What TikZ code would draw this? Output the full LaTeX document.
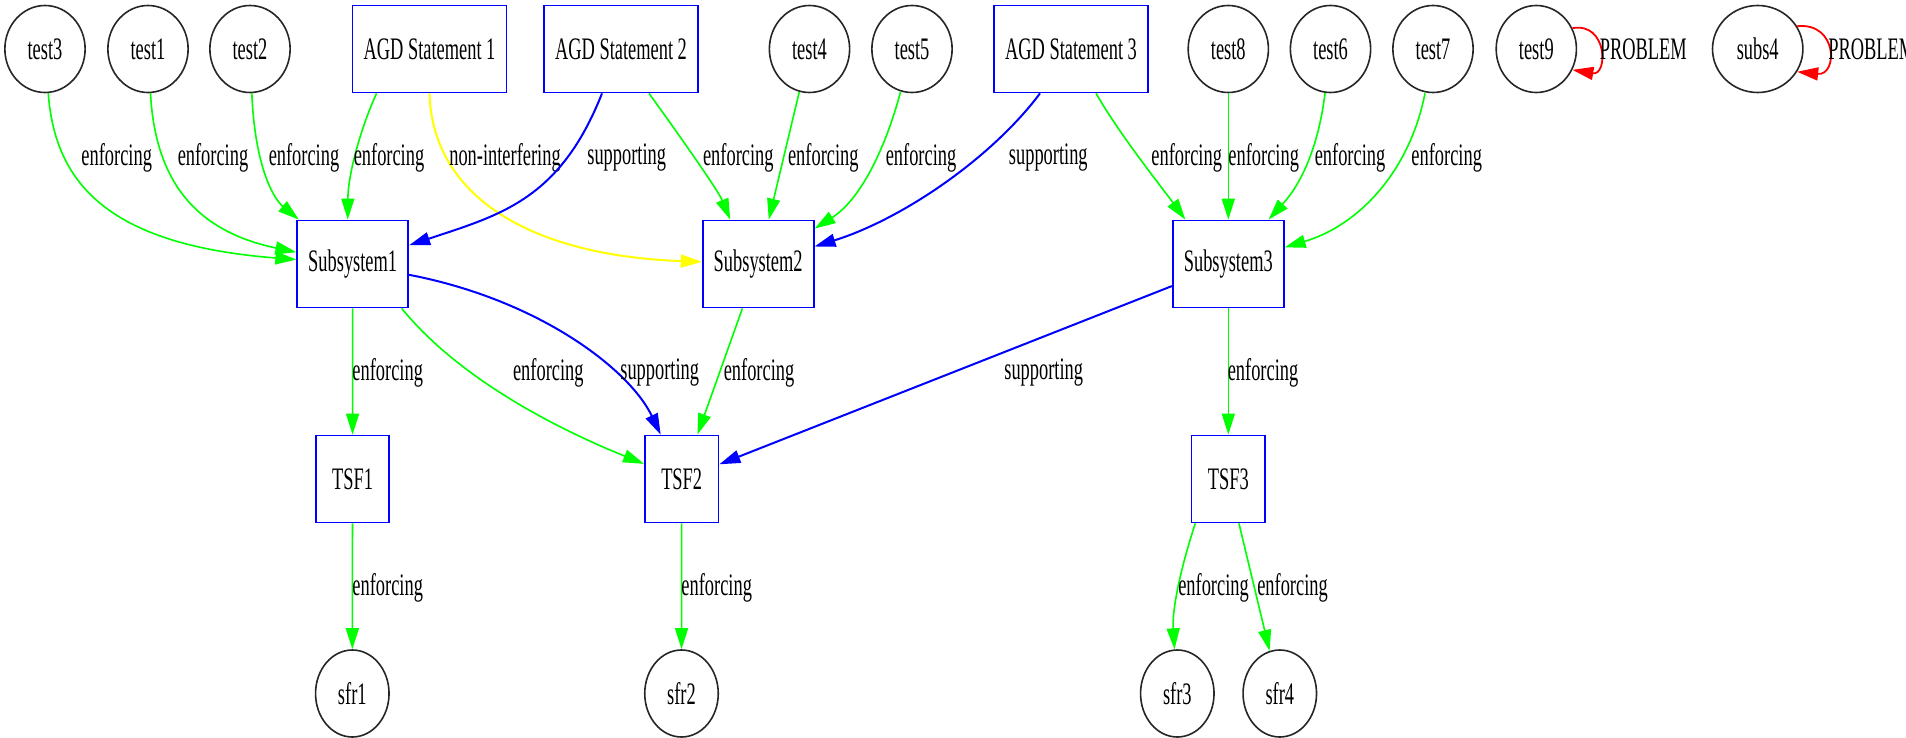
\documentclass[tikz,border=0pt]{standalone}
\usepackage{fontspec}
\setmainfont{Liberation Serif}
\usepackage{graphicx}
\usetikzlibrary{shapes.geometric, arrows.meta}
\newcommand{\lbl}[1]{\scalebox{1}[1.7]{#1}}

\definecolor{enfgreen}{RGB}{0,255,0}
\definecolor{supblue}{RGB}{0,0,255}
\definecolor{nonyellow}{RGB}{255,255,0}
\definecolor{probred}{RGB}{255,0,0}

\begin{document}
\begin{tikzpicture}[x=1pt, y=-1pt, >={Triangle[length=21pt,width=13pt]}, font=\fontsize{18.4}{22}\selectfont,
    req/.style={ellipse, draw=black!85, line width=1.6pt, minimum width=73.5pt, minimum height=87pt, inner xsep=11pt, inner ysep=0pt},
    comp/.style={rectangle, draw=supblue, line width=1.8pt, minimum width=73.5pt, minimum height=87pt, inner xsep=11pt, inner ysep=0pt},
    elab/.style={inner sep=0pt, text=black},
    enf/.style={->, enfgreen, line width=1.6pt},
    sup/.style={->, supblue, line width=2pt},
    nonint/.style={->, nonyellow, line width=2pt},
    prob/.style={->, probred, line width=1.8pt}]
    \useasboundingbox[fill=white] (0,0) rectangle (1906,738);

    % top row
    \node[req] (test3) at (45,49) {\lbl{test3}};
    \node[req] (test1) at (148,49) {\lbl{test1}};
    \node[req] (test2) at (250,49) {\lbl{test2}};
    \node[comp] (agd1) at (429.5,49) {\lbl{AGD Statement 1}};
    \node[comp] (agd2) at (621,49) {\lbl{AGD Statement 2}};
    \node[req] (test4) at (809.5,49) {\lbl{test4}};
    \node[req] (test5) at (912,49) {\lbl{test5}};
    \node[comp] (agd3) at (1071,49) {\lbl{AGD Statement 3}};
    \node[req] (test8) at (1228.3,49) {\lbl{test8}};
    \node[req] (test6) at (1330.5,49) {\lbl{test6}};
    \node[req] (test7) at (1433,49) {\lbl{test7}};
    \node[req] (test9) at (1536.3,49) {\lbl{test9}};
    \node[req] (subs4) at (1757.7,49) {\lbl{subs4}};

    % subsystems, TSFs and SFRs
    \node[comp] (sub1) at (352.7,264) {\lbl{Subsystem1}};
    \node[comp] (sub2) at (758.2,264) {\lbl{Subsystem2}};
    \node[comp] (sub3) at (1228.3,264) {\lbl{Subsystem3}};
    \node[comp] (tsf1) at (352.5,479) {\lbl{TSF1}};
    \node[comp] (tsf2) at (681.7,479) {\lbl{TSF2}};
    \node[comp] (tsf3) at (1228.3,479) {\lbl{TSF3}};
    \node[req] (sfr1) at (352.3,693.5) {\lbl{sfr1}};
    \node[req] (sfr2) at (681.5,693.5) {\lbl{sfr2}};
    \node[req] (sfr3) at (1177.3,693.5) {\lbl{sfr3}};
    \node[req] (sfr4) at (1279.8,693.5) {\lbl{sfr4}};

    % into the subsystems
    \draw[enf] (test3) .. controls (55,185) and (110,245) .. (sub1) node[elab] at (116.7,158) {\lbl{enforcing}};
    \draw[enf] (test1) .. controls (155,175) and (190,230) .. (sub1) node[elab] at (213,158) {\lbl{enforcing}};
    \draw[enf] (test2) .. controls (255,170) and (275,200) .. (sub1) node[elab] at (304,158) {\lbl{enforcing}};
    \draw[enf] ([xshift=-53pt]agd1.south) .. controls (360,130) and (348,175) .. ([xshift=-5pt]sub1.north) node[elab] at (389,158) {\lbl{enforcing}};
    \draw[nonint] (agd1.south) .. controls (432,190) and (520,255) .. (sub2) node[elab] at (505,158) {\lbl{non-interfering}};
    \draw[sup] ([xshift=-19pt]agd2.south) .. controls (560,200) and (500,215) .. (sub1) node[elab] at (626.7,158) {\lbl{supporting}};
    \draw[enf] ([xshift=28pt]agd2.south) .. controls (672,125) and (718,190) .. ([xshift=-28pt]sub2.north) node[elab] at (738.3,158) {\lbl{enforcing}};
    \draw[enf] (test4) -- (sub2) node[elab] at (823.3,158) {\lbl{enforcing}};
    \draw[enf] (test5) .. controls (885,150) and (860,200) .. (sub2) node[elab] at (921,158) {\lbl{enforcing}};
    \draw[sup] ([xshift=-31pt]agd3.south) .. controls (990,160) and (900,220) .. (sub2) node[elab] at (1048.3,158) {\lbl{supporting}};
    \draw[enf] ([xshift=25pt]agd3.south) .. controls (1120,135) and (1160,185) .. ([xshift=-43pt]sub3.north) node[elab] at (1186.7,158) {\lbl{enforcing}};
    \draw[enf] (test8) -- (sub3) node[elab] at (1263.7,158) {\lbl{enforcing}};
    \draw[enf] (test6) .. controls (1318,150) and (1300,185) .. (sub3) node[elab] at (1350,158) {\lbl{enforcing}};
    \draw[enf] ([xshift=-8pt]test7.south) .. controls (1410,170) and (1360,225) .. (sub3) node[elab] at (1446.7,158) {\lbl{enforcing}};

    % subsystems to TSFs
    \draw[enf] (sub1) -- (tsf1) node[elab] at (387.7,373) {\lbl{enforcing}};
    \draw[enf] ([xshift=49pt]sub1.south) .. controls (460,380) and (560,430) .. (tsf2) node[elab] at (548.3,373) {\lbl{enforcing}};
    \draw[sup] (sub1) .. controls (540,300) and (630,370) .. (tsf2) node[elab] at (659.7,373) {\lbl{supporting}};
    \draw[enf] (sub2) -- (tsf2) node[elab] at (759,373) {\lbl{enforcing}};
    \draw[sup] (sub3) -- (tsf2) node[elab] at (1043.7,373) {\lbl{supporting}};
    \draw[enf] (sub3) -- (tsf3) node[elab] at (1263,373) {\lbl{enforcing}};

    % TSFs to SFRs
    \draw[enf] (tsf1) -- (sfr1) node[elab] at (387.7,588) {\lbl{enforcing}};
    \draw[enf] (tsf2) -- (sfr2) node[elab] at (716.7,588) {\lbl{enforcing}};
    \draw[enf] ([xshift=-33pt]tsf3.south) .. controls (1180,570) and (1172,610) .. (sfr3) node[elab] at (1213.5,588) {\lbl{enforcing}};
    \draw[enf] (tsf3) -- (sfr4) node[elab] at (1292.5,588) {\lbl{enforcing}};

    % loose ends
    \draw[prob] (test9.30) .. controls (1608,22) and (1608,76) .. (test9.-30) node[elab] at (1643.3,49) {\lbl{PROBLEM}};
    \draw[prob] (subs4.30) .. controls (1838,22) and (1838,76) .. (subs4.-30) node[elab] at (1871.8,49) {\lbl{PROBLEM}};
\end{tikzpicture}
\end{document}
